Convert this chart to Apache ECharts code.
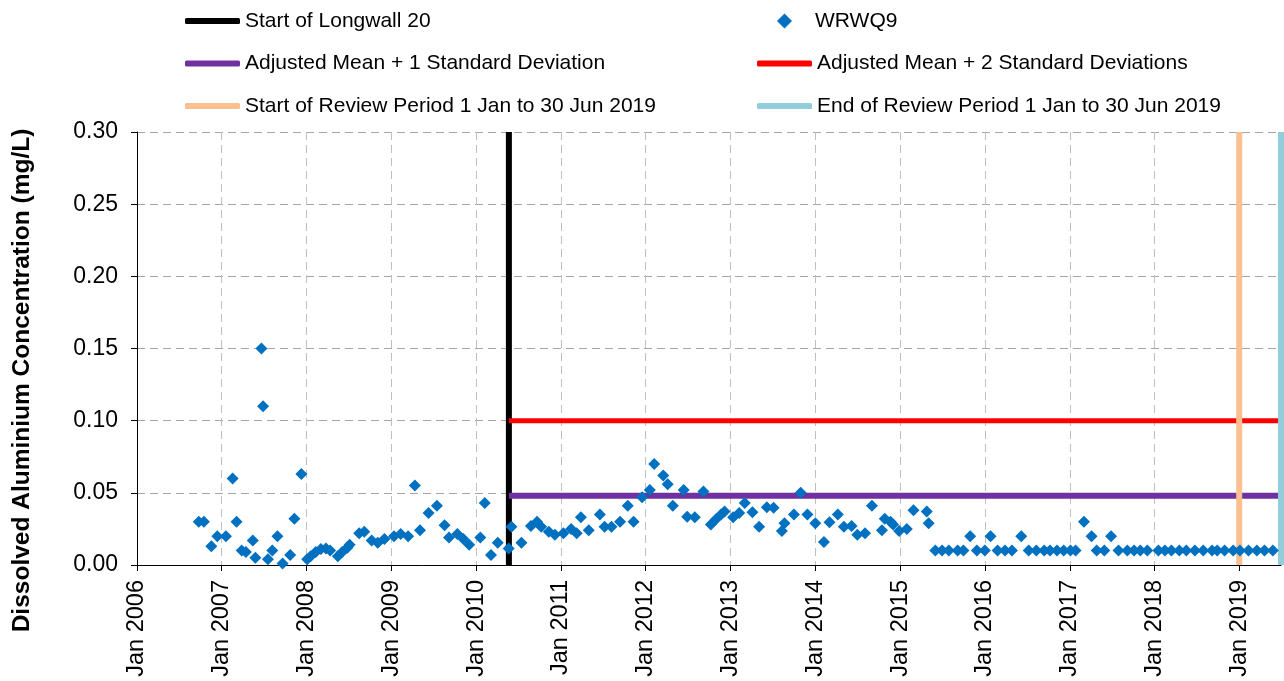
<!DOCTYPE html>
<html>
<head>
<meta charset="utf-8">
<script src="https://cdn.jsdelivr.net/npm/echarts@6/dist/echarts.min.js"></script>
<style>
  html, body { margin: 0; padding: 0; background: #fff; }
  #chart { width: 1284px; height: 681px; }
</style>
</head>
<body>
<div id="chart"></div>
<script>
// WRWQ9 sample dates and dissolved aluminium (mg/L)
var sampleDates = [
    "2006-09-24","2006-10-16","2006-11-17","2006-12-13","2007-01-19","2007-02-17","2007-03-06","2007-03-28",
    "2007-04-15","2007-05-15","2007-05-26","2007-06-21","2007-06-28","2007-07-19","2007-08-07","2007-08-29",
    "2007-09-20","2007-10-23","2007-11-10","2007-12-10","2008-01-04","2008-01-19","2008-02-10","2008-03-03",
    "2008-03-25","2008-04-12","2008-05-15","2008-06-03","2008-06-25","2008-07-05","2008-08-15","2008-09-06",
    "2008-10-08","2008-11-03","2008-12-02","2009-01-12","2009-02-10","2009-03-14","2009-04-12","2009-05-04",
    "2009-06-10","2009-07-16","2009-08-18","2009-09-06","2009-10-12","2009-11-07","2009-12-02","2010-01-19",
    "2010-02-07","2010-03-06","2010-04-04","2010-05-21","2010-06-02","2010-07-15","2010-08-25","2010-09-20",
    "2010-10-08","2010-11-10","2010-12-06","2011-01-12","2011-02-14","2011-03-10","2011-03-28","2011-05-01",
    "2011-06-18","2011-07-08","2011-08-07","2011-09-13","2011-10-16","2011-11-10","2011-12-17","2012-01-19",
    "2012-02-07","2012-03-17","2012-04-05","2012-04-27","2012-06-13","2012-06-28","2012-07-31","2012-09-06",
    "2012-10-08","2012-10-30","2012-11-21","2012-12-06","2013-01-12","2013-02-07","2013-03-03","2013-04-05",
    "2013-05-04","2013-06-06","2013-07-05","2013-08-10","2013-08-21","2013-10-01","2013-10-30","2013-11-28",
    "2014-01-01","2014-02-07","2014-03-03","2014-04-08","2014-05-04","2014-06-06","2014-07-01","2014-08-03",
    "2014-09-02","2014-10-15","2014-10-27","2014-11-21","2014-12-02","2014-12-28","2015-01-30","2015-02-28",
    "2015-04-26","2015-05-04","2015-06-02","2015-07-01","2015-07-30","2015-09-06","2015-10-01","2015-10-30",
    "2015-11-28","2016-01-01","2016-01-26","2016-02-25","2016-03-28","2016-04-27","2016-06-06","2016-07-08",
    "2016-08-10","2016-09-13","2016-10-08","2016-11-07","2016-12-06","2017-01-04","2017-01-26","2017-03-03",
    "2017-04-05","2017-04-27","2017-05-30","2017-06-28","2017-07-30","2017-09-06","2017-10-05","2017-11-01",
    "2017-12-01","2018-01-18","2018-02-15","2018-03-15","2018-04-18","2018-05-18","2018-06-24","2018-07-30",
    "2018-09-06","2018-09-28","2018-10-30","2018-12-06","2019-01-04","2019-02-10","2019-03-18","2019-04-20",
    "2019-05-26"
];
var aluminium = [
    0.030,0.030,0.013,0.020,0.020,0.060,0.030,0.010,
    0.009,0.017,0.005,0.150,0.110,0.004,0.010,0.020,
    0.001,0.007,0.032,0.063,0.004,0.006,0.009,0.011,
    0.0115,0.010,0.006,0.009,0.012,0.014,0.022,0.023,
    0.017,0.0155,0.018,0.020,0.0215,0.020,0.055,0.024,
    0.036,0.041,0.0275,0.019,0.0215,0.018,0.014,0.019,
    0.043,0.007,0.0155,0.0115,0.0265,0.0155,0.027,0.030,
    0.0265,0.023,0.021,0.022,0.025,0.022,0.033,0.024,
    0.035,0.0265,0.0265,0.030,0.041,0.030,0.047,0.052,
    0.070,0.062,0.056,0.041,0.052,0.0335,0.033,0.051,
    0.028,0.0317,0.035,0.037,0.033,0.036,0.043,0.0365,
    0.0265,0.040,0.0397,0.0235,0.029,0.035,0.050,0.035,
    0.029,0.016,0.0296,0.035,0.0265,0.027,0.021,0.022,
    0.041,0.024,0.032,0.030,0.028,0.0235,0.025,0.038,
    0.037,0.029,0.010,0.010,0.010,0.010,0.010,0.020,
    0.010,0.010,0.020,0.010,0.010,0.010,0.020,0.010,
    0.010,0.010,0.010,0.010,0.010,0.010,0.010,0.030,
    0.020,0.010,0.010,0.020,0.010,0.010,0.010,0.010,
    0.010,0.010,0.010,0.010,0.010,0.010,0.010,0.010,
    0.010,0.010,0.010,0.010,0.010,0.010,0.010,0.010,
    0.010
];

// reference dates and trigger levels
var longwallStart = "2010-05-22";
var reviewStart = "2019-01-01";
var reviewEnd = "2019-06-30";
var meanPlus1SD = 0.048;
var meanPlus2SD = 0.10;
var yTicks = [0, 0.05, 0.10, 0.15, 0.20, 0.25, 0.30];

var names = ["Start of Longwall 20", "WRWQ9",
    "Adjusted Mean + 1 Standard Deviation", "Adjusted Mean + 2 Standard Deviations",
    "Start of Review Period 1 Jan to 30 Jun 2019", "End of Review Period 1 Jan to 30 Jun 2019"];

var points = [];
for (var i = 0; i < sampleDates.length; i++) {
    points.push([sampleDates[i], aluminium[i]]);
}
var yTop = yTicks[yTicks.length - 1];

function refLine(name, data, color, width) {
    return {
        name: name, type: "line", data: data, symbol: "none",
        lineStyle: { color: color, width: width },
        itemStyle: { color: color },
        z: 2, silent: true
    };
}

var legendText = { fontFamily: "Liberation Sans, Arial", fontSize: 21, color: "#000", lineHeight: 22 };

// line legends: rounded bars; the scatter gets its own legend so the diamond keeps its shape
function lineLegend(items, left, top) {
    return {
        data: items, orient: "vertical", left: left, top: top, padding: 0,
        icon: "roundRect", itemWidth: 55, itemHeight: 6, itemGap: 20.5,
        textStyle: legendText
    };
}

var chart = echarts.init(document.getElementById("chart"));
chart.setOption({
    animation: false,
    backgroundColor: "#fff",
    grid: { left: 137, right: 3, top: 132, bottom: 116 },
    legend: [
        lineLegend([names[0], names[2], names[4]], 185, 10),
        lineLegend([names[3], names[5]], 757, 52.5),
        {
            data: [names[1]], left: 777, top: 10, padding: 0,
            icon: "diamond", itemWidth: 15, itemHeight: 15,
            textStyle: Object.assign({}, legendText, { padding: [0, 0, 0, 18] })
        }
    ],
    xAxis: {
        type: "time",
        min: "2006-01-01", max: reviewEnd,
        minInterval: 365 * 24 * 3600 * 1000,
        maxInterval: 366 * 24 * 3600 * 1000,
        axisLine: { lineStyle: { color: "#000", width: 1 } },
        axisTick: { show: true, length: 6, lineStyle: { color: "#000" } },
        axisLabel: {
            rotate: 90, margin: 15, fontSize: 23.5, color: "#000",
            fontFamily: "Liberation Sans, Arial",
            showMaxLabel: false,
            formatter: function (v) { return "Jan " + new Date(v).getFullYear(); }
        },
        splitLine: { show: true, lineStyle: { color: "#BFBFBF", type: [8, 5], width: 1 } }
    },
    yAxis: {
        type: "value", min: 0, max: yTop, interval: 0.05,
        name: "Dissolved Aluminium Concentration (mg/L)",
        nameLocation: "middle", nameGap: 102,
        nameTextStyle: { fontSize: 24.5, fontWeight: "bold", color: "#000",
            fontFamily: "Liberation Sans, Arial", padding: [0, 64, 0, 0] },
        axisLine: { show: true, lineStyle: { color: "#000", width: 1 } },
        axisTick: { show: true, length: 6, lineStyle: { color: "#000" } },
        axisLabel: { fontSize: 23, color: "#000", margin: 19,
            fontFamily: "Liberation Sans, Arial",
            formatter: function (v) { return v.toFixed(2); } },
        splitLine: { show: true, lineStyle: { color: "#A6A6A6", type: [8, 5], width: 1 } }
    },
    series: [
        refLine(names[0], [[longwallStart, 0], [longwallStart, yTop]], "#000000", 6),
        refLine(names[2], [[longwallStart, meanPlus1SD], [reviewEnd, meanPlus1SD]], "#7030A0", 6),
        refLine(names[3], [[longwallStart, meanPlus2SD], [reviewEnd, meanPlus2SD]], "#FF0000", 5),
        refLine(names[4], [[reviewStart, 0], [reviewStart, yTop]], "#FAC090", 6),
        refLine(names[5], [[reviewEnd, 0], [reviewEnd, yTop]], "#92CDDC", 6),
        {
            name: names[1], type: "scatter", data: points,
            symbol: "diamond", symbolSize: 12,
            itemStyle: { color: "#0070C0", opacity: 1 }, z: 5
        }
    ]
});
</script>
</body>
</html>
